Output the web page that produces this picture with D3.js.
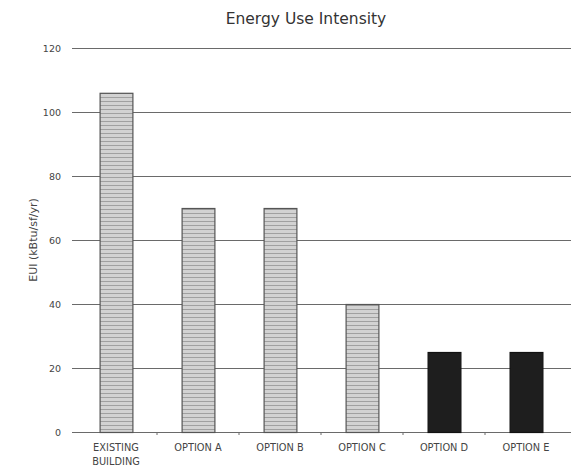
<!DOCTYPE html>
<html><head><meta charset="utf-8">
<script src="https://cdn.jsdelivr.net/npm/d3@7"></script>
<style>body{margin:0;background:#fff}svg{display:block}</style>
</head><body>
<svg id="c" width="571" height="469"></svg>
<script>
const categories = ["EXISTING BUILDING","OPTION A","OPTION B","OPTION C","OPTION D","OPTION E"];
const labelLines = [["EXISTING","BUILDING"],["OPTION A"],["OPTION B"],["OPTION C"],["OPTION D"],["OPTION E"]];
const values = [106,70,70,40,25,25];
const kinds = ["light","light","light","light","dark","dark"];
const yTicks = [0,20,40,60,80,100,120];

const svg = d3.select("#c");
const m = {l:75, r:4, t:48, b:37};
const W = 571, H = 469;
const x = d3.scaleBand().domain(categories).range([m.l, W - m.r]).paddingInner(0.6).paddingOuter(0.3);
const y = d3.scaleLinear().domain([0,120]).range([H - m.b, m.t]);

const defs = svg.append("defs");
const pat = defs.append("pattern").attr("id","stripe").attr("patternUnits","userSpaceOnUse").attr("width",8).attr("height",4);
pat.append("rect").attr("width",8).attr("height",4).attr("fill","#d2d2d2");
pat.append("line").attr("x1",0).attr("x2",8).attr("y1",1.5).attr("y2",1.5).attr("stroke","#a0a0a0").attr("stroke-width",1);

// gridlines
svg.append("g").selectAll("line").data(yTicks).join("line")
  .attr("x1", m.l).attr("x2", W).attr("y1", d => y(d)+0.5).attr("y2", d => y(d)+0.5)
  .attr("stroke","#6a6a6a").attr("stroke-width",1);

// y axis labels
const ya = svg.append("g").attr("transform",`translate(${m.l},0)`)
  .call(d3.axisLeft(y).tickValues(yTicks).tickSize(3).tickPadding(11));
ya.select(".domain").remove();
ya.selectAll("text").attr("font-family","DejaVu Sans, Verdana, sans-serif").attr("font-size",9.5).attr("fill","#444");
ya.selectAll(".tick line").attr("stroke","#6a6a6a");

// x axis tick marks at band boundaries
const bounds = categories.map(c => x(c) - x.step()*x.paddingInner()/2).slice(1);
svg.append("g").selectAll("line").data(bounds).join("line")
  .attr("x1", d => d).attr("x2", d => d).attr("y1", y(0)).attr("y2", y(0)+3)
  .attr("stroke","#6a6a6a");

// bars
svg.append("g").selectAll("rect").data(categories).join("rect")
  .attr("x", d => x(d)+0.5).attr("width", x.bandwidth())
  .attr("y", (d,i) => y(values[i])+0.5).attr("height", (d,i) => y(0) - y(values[i]))
  .attr("fill", (d,i) => kinds[i] === "dark" ? "#1e1e1e" : "url(#stripe)")
  .attr("stroke", (d,i) => kinds[i] === "dark" ? "#111" : "#555")
  .attr("stroke-width", 1.2);

// x labels
const xl = svg.append("g");
categories.forEach((c,i) => {
  const t = xl.append("text").attr("x", x(c) + x.bandwidth()/2).attr("y", y(0)+19)
    .attr("text-anchor","middle").attr("font-family","DejaVu Sans, Verdana, sans-serif")
    .attr("font-size",9.8).attr("fill","#444");
  labelLines[i].forEach((l,j) => t.append("tspan").attr("x", x(c) + x.bandwidth()/2).attr("dy", j ? 14 : 0).text(l));
});

// title
svg.append("text").attr("x",306).attr("y",24).attr("text-anchor","middle")
  .attr("font-family","DejaVu Sans, Verdana, sans-serif").attr("font-size",15.5).attr("fill","#333")
  .text("Energy Use Intensity");

// y label
svg.append("text").attr("transform",`translate(37,240) rotate(-90)`)
  .attr("text-anchor","middle").attr("font-family","DejaVu Sans, Verdana, sans-serif")
  .attr("font-size",11).attr("fill","#444").text("EUI (kBtu/sf/yr)");
</script>
</body></html>
